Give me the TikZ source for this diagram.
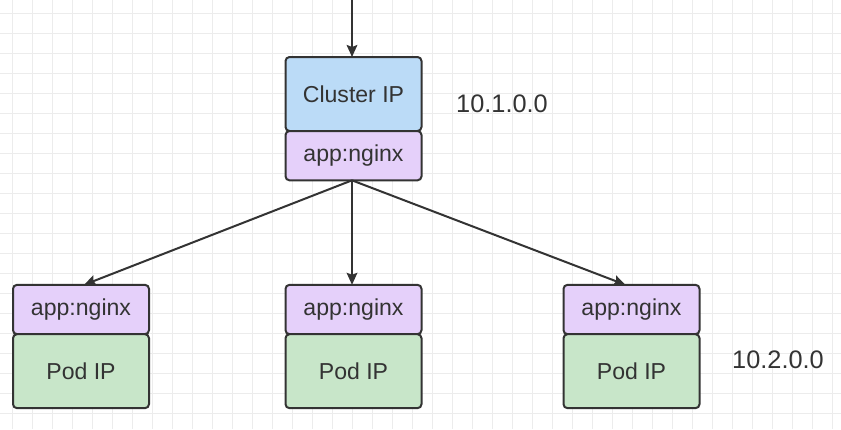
\documentclass[tikz,border=0pt]{standalone}
\usepackage{fontspec}
\setmainfont{Liberation Sans}
\usetikzlibrary{positioning, arrows.meta, calc}

\definecolor{ipblue}{RGB}{187,219,247}
\definecolor{selpurple}{RGB}{229,208,250}
\definecolor{podgreen}{RGB}{200,230,201}
\definecolor{edgegray}{RGB}{51,51,51}
\definecolor{gridgray}{RGB}{236,236,236}

\tikzset{
    box/.style={draw=edgegray, line width=1.5pt, rounded corners=3pt,
        minimum width=102pt, outer sep=0pt, text=edgegray,
        font=\fontsize{17.3}{20}\selectfont},
    cluster/.style={box, fill=ipblue, minimum height=55.5pt},
    selector/.style={box, fill=selpurple, minimum height=37pt},
    pod/.style={box, fill=podgreen, minimum height=55.5pt},
    addr/.style={text=edgegray, font=\fontsize{19}{22}\selectfont},
    link/.style={draw=edgegray, line width=1.5pt,
        -{Stealth[length=9pt, width=8pt, inset=1.5pt]}}
}

\begin{document}
\begin{tikzpicture}[x=0.75pt, y=-0.75pt]
    \useasboundingbox (0,0) rectangle (841,429);
    % grid in the background
    \foreach \gx in {12,32,...,832}
        \draw[gridgray, line width=0.75pt] (\gx,0) -- (\gx,429);
    \foreach \gy in {13,33,...,413}
        \draw[gridgray, line width=0.75pt] (0,\gy) -- (841,\gy);

    % service
    \coordinate (in) at (352,0);
    \node[cluster] (cip) at (353.5,94) {Cluster IP};
    \node[selector, below=0pt of cip] (sel) {app:nginx};
    \node[addr] (caddr) at (502,104) {10.1.0.0};

    % pods
    \node[selector] (lsel) at (81,309.5) {app:nginx};
    \node[pod, below=0pt of lsel] (lpod) {Pod IP};
    \node[selector] (msel) at (353.5,309.5) {app:nginx};
    \node[pod, below=0pt of msel] (mpod) {Pod IP};
    \node[selector] (rsel) at (631.5,309.5) {app:nginx};
    \node[pod, below=0pt of rsel] (rpod) {Pod IP};
    \node[addr] (paddr) at (778,360) {10.2.0.0};

    \draw[link] (in) -- (cip.north -| in);
    \draw[link] (sel.south -| in) -- ($(lsel.north)+(3,0)$);
    \draw[link] (sel.south -| in) -- (msel.north -| in);
    \draw[link] (sel.south -| in) -- ($(rsel.north)+(-6,0)$);
\end{tikzpicture}
\end{document}
